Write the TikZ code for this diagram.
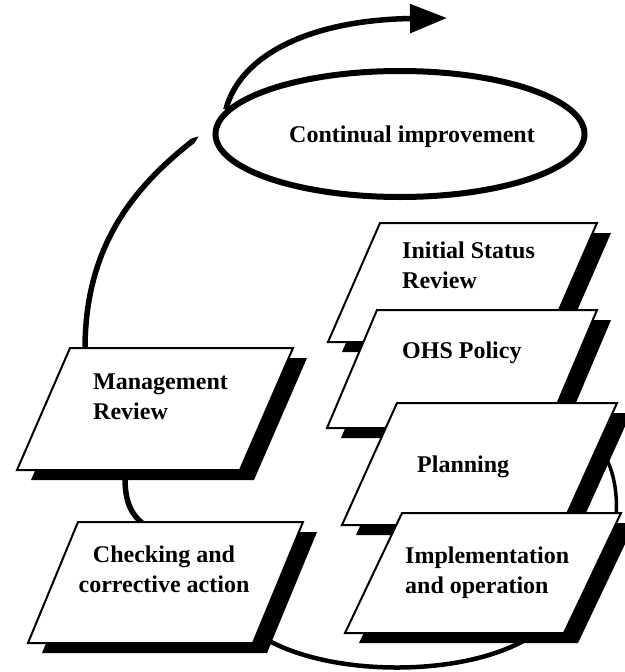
\documentclass[tikz,border=0pt]{standalone}
\usepackage{fontspec}
\setmainfont{Liberation Serif}
\usetikzlibrary{shapes.geometric,arrows.meta}
\newcommand\pgm[5]{% top-left x, y, width, height, slant
  \fill[black] ({#1+14},{#2+10}) -- ++(#3,0) -- ++(-#5,#4) -- ++(-#3,0) -- cycle;
  \filldraw[boxline] (#1,#2) -- ++(#3,0) -- ++(-#5,#4) -- ++(-#3,0) -- cycle;
}
\begin{document}
\begin{tikzpicture}[x=1pt,y=-1pt,
  boxline/.style={fill=white,draw=black,line width=2pt,line join=miter},
  lbl/.style={font=\bfseries\fontsize{24}{30}\selectfont,inner sep=0pt},
  arc/.style={draw=black,line width=5.5pt},
  thinarc/.style={draw=black,line width=4.5pt}]
\useasboundingbox (0,0) rectangle (624,672);

% continual improvement ellipse
\node[ellipse,draw,line width=6pt,minimum width=369pt,minimum height=126pt] (ci) at (400,134) {};
\node[lbl,anchor=base] (citext) at (412,142) {Continual improvement};

% named connection points on boxes
\coordinate (mrtop) at (85,349);
\coordinate (tip) at (199,136);
\coordinate (mrbot) at (125,478);
\coordinate (cktop) at (142,523);
\coordinate (ckbr) at (264,638);
\coordinate (impbot) at (525,640);
\coordinate (plright) at (604,455);
\coordinate (imright) at (616,520);

% connectors (behind boxes)
\draw[arc,-{Triangle[length=37pt,width=28pt]}] (ci.172) .. controls (240,55) and (310,20) .. (447,18);
\draw[arc,-{Triangle[length=9pt,width=5.5pt]}] (mrtop) .. controls (85,250) and (130,190) .. (tip);
\draw[arc] (mrbot) .. controls (125,505) and (133,515) .. (cktop);
\draw[thinarc] (ckbr) .. controls (330,677) and (460,677) .. (impbot);
\draw[thinarc,line width=3.5pt] (plright) .. controls (614,470) and (618,495) .. (imright);

% right stack
\pgm{380}{223}{217}{119}{52}
\node[lbl,anchor=north west,align=left] (isr) at (402,241.7) {Initial Status\\Review};
\pgm{377}{310}{220}{118}{50}
\node[lbl,anchor=base west] (ohs) at (402,358) {OHS Policy};
\pgm{397}{403}{220}{122}{55}
\node[lbl,anchor=base west] (plan) at (417,472) {Planning};
\pgm{402}{513}{219}{120}{57}
\node[lbl,anchor=north west,align=left] (impl) at (405,546.7) {Implementation\\and operation};

% left column
\pgm{70}{348}{223}{122}{53}
\node[lbl,anchor=north west,align=left] (mr) at (93,373.7) {Management\\Review};
\pgm{78}{522}{225}{121}{50}
\node[lbl,anchor=north,align=center] (ck) at (164,545.7) {Checking and\\corrective action};
\end{tikzpicture}
\end{document}
